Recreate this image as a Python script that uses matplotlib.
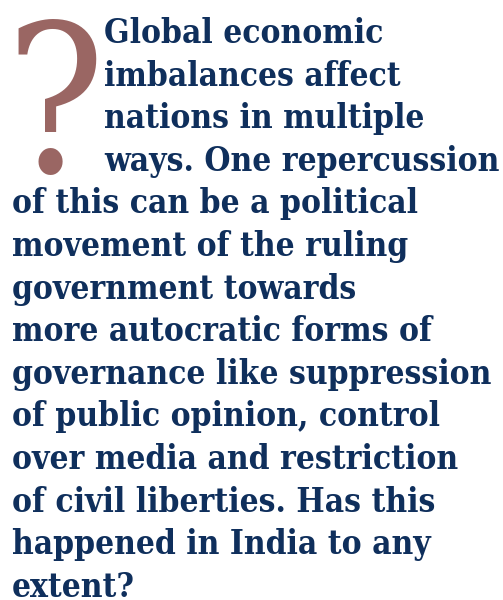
import matplotlib
matplotlib.use("Agg")
import matplotlib.pyplot as plt

# text of the pull quote, one entry per printed line
indented_lines = [
    "Global economic",
    "imbalances affect",
    "nations in multiple",
    "ways. One repercussion",
]
full_lines = [
    "of this can be a political",
    "movement of the ruling",
    "government towards",
    "more autocratic forms of",
    "governance like suppression",
    "of public opinion, control",
    "over media and restriction",
    "of civil liberties. Has this",
    "happened in India to any",
    "extent?",
]

TEXT_COLOR = "#0f2f5c"
MARK_COLOR = "#9a6663"

fig = plt.figure(figsize=(5.03, 6.00), dpi=100)
ax = fig.add_axes([0, 0, 1, 1])
ax.set_xlim(0, 503)
ax.set_ylim(600, 0)
ax.axis("off")

# big decorative question mark
ax.text(5, 172, "?", family="DejaVu Serif", fontstretch="condensed", fontsize=148,
        color=MARK_COLOR, ha="left", va="baseline")

base = 43
step = 42.6
font = dict(family="DejaVu Serif", fontweight="bold", fontstretch="condensed",
            fontsize=24, color=TEXT_COLOR, ha="left", va="baseline")

for i, line in enumerate(indented_lines):
    ax.text(104, base + i * step, line, **font)
for j, line in enumerate(full_lines):
    ax.text(12, base + (len(indented_lines) + j) * step, line, **font)

fig.savefig("out.png", dpi=100)
